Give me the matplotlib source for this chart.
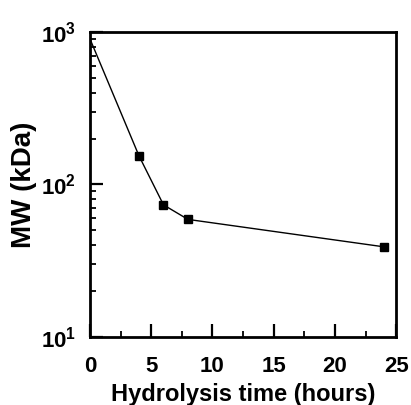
import matplotlib.pyplot as plt
from matplotlib.ticker import MultipleLocator

plt.rcParams['font.family'] = ['Liberation Sans', 'DejaVu Sans']
plt.rcParams['font.weight'] = 'bold'

# hydrolysis data
tempo = [0, 4, 6, 8, 24]
mw = [900, 154, 73.5, 59, 39]

fig = plt.figure(figsize=(4.11, 4.05), dpi=100)
ax = fig.add_axes([0.219, 0.168, 0.745, 0.753])
ax.plot(tempo, mw, color='black', linewidth=1.0, marker='s', markersize=6,
        markevery=[1, 2, 3, 4])
ax.set_yscale('log')
ax.set_xlim(0, 25)
ax.set_ylim(10, 1000)
ax.xaxis.set_major_locator(MultipleLocator(5))
ax.xaxis.set_minor_locator(MultipleLocator(2.5))
for s in ax.spines.values():
    s.set_linewidth(2.0)
ax.tick_params(which='major', direction='in', length=9.5, width=1.6, labelsize=16)
ax.tick_params(which='minor', direction='in', length=4.5, width=1.3)
ax.tick_params(axis='x', which='major', pad=14)
ax.tick_params(axis='y', which='major', pad=10)
ax.set_xlabel('Hydrolysis time (hours)', fontsize=17, fontweight='bold', labelpad=4)
ax.set_ylabel('MW (kDa)', fontsize=20, fontweight='bold', labelpad=3)
fig.savefig('out.png', dpi=100)
